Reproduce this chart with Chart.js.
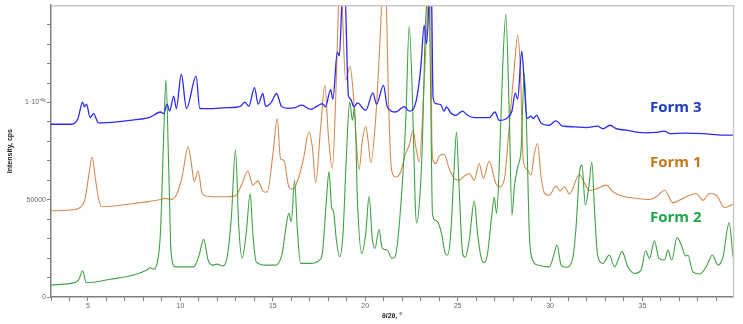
<!DOCTYPE html>
<html>
<head>
<meta charset="utf-8">
<script src="https://cdn.jsdelivr.net/npm/chart.js@4.4.0/dist/chart.umd.min.js"></script>
<style>
    html, body { margin: 0; padding: 0; background: #fff; }
    #wrap { width: 743px; height: 324px; }
</style>
</head>
<body>
<div id="wrap"><canvas id="xrd-chart" width="743" height="324"></canvas></div>
<script>
// [2theta, counts]
var form3Pattern = [
    [3.0, 88800], [4.04, 88800], [4.45, 91500], [4.71, 100200], [4.81, 97700], [4.92, 99100],
    [5.12, 92200], [5.3, 94300], [5.57, 89500], [6.57, 90000], [7.5, 91000], [8.37, 92500],
    [8.92, 95100], [9.1, 94300], [9.28, 99100], [9.42, 95600], [9.64, 103300], [9.78, 96900],
    [10.05, 114500], [10.33, 96900], [10.85, 113400], [11.05, 96900], [11.5, 96800], [12.5, 97300],
    [13.25, 98000], [13.49, 100200], [13.7, 98000], [14.01, 107600], [14.21, 99100], [14.46, 104600],
    [14.61, 98000], [14.93, 100200], [15.2, 104600], [15.47, 98000], [15.8, 97000], [16.2, 97300],
    [16.56, 98600], [17.05, 96400], [17.32, 97700], [17.59, 99100], [17.68, 99400], [17.85, 97800],
    [18.13, 106600], [18.25, 101600], [18.49, 125900], [18.6, 124000], [18.73, 150000], [18.83, 175000],
    [18.94, 150000], [19.09, 103700], [19.21, 101700], [19.39, 97700], [19.58, 99800], [20.03, 96000],
    [20.42, 104900], [20.61, 99100], [20.99, 108800], [21.2, 97700], [21.65, 95100], [22.1, 97900],
    [22.38, 95600], [22.74, 100200], [23.01, 118200], [23.19, 139600], [23.32, 130200], [23.44, 150000],
    [23.52, 175000], [23.6, 150000], [23.67, 102800], [23.82, 99400], [24.09, 98800], [24.27, 95600],
    [24.4, 97700], [24.63, 94600], [24.9, 93400], [25.27, 95600], [25.54, 93400], [25.9, 92200],
    [26.71, 92200], [27.02, 95100], [27.25, 90800], [27.71, 92200], [27.94, 95600], [28.12, 104900],
    [28.25, 101700], [28.47, 126400], [28.61, 109700], [28.75, 91700], [28.97, 93000], [29.09, 91700],
    [29.28, 93400], [29.51, 89500], [29.96, 88300], [30.32, 90500], [30.69, 87800], [31.3, 87500],
    [31.95, 87100], [32.58, 87800], [32.86, 86500], [33.25, 88300], [33.58, 86500], [34.1, 85800],
    [34.66, 84800], [35.2, 84400], [35.7, 84600], [36.19, 85300], [36.47, 84000], [37.3, 84200],
    [38.28, 84000], [39.36, 83200], [39.9, 83200]
];

var form1Pattern = [
    [3.0, 44300], [4.04, 44700], [4.58, 46000], [4.85, 50700], [5.03, 61700], [5.23, 72000],
    [5.39, 61700], [5.57, 50700], [5.76, 46400], [7.47, 48100], [8.92, 50100], [9.1, 50700],
    [9.55, 50200], [9.82, 53200], [10.09, 61700], [10.42, 77200], [10.58, 69500], [10.76, 59200],
    [10.96, 64800], [11.18, 53200], [11.45, 51800], [12.26, 51500], [12.98, 52000], [13.34, 58400],
    [13.65, 64800], [13.92, 57500], [14.19, 59700], [14.52, 54000], [14.7, 54000], [15.0, 72900],
    [15.24, 91700], [15.42, 71000], [15.6, 70300], [15.87, 56600], [16.09, 55300], [16.41, 61700],
    [16.68, 72000], [16.95, 84800], [17.14, 77200], [17.32, 58700], [17.59, 87400], [17.82, 108800],
    [18.0, 84000], [18.22, 66000], [18.4, 101100], [18.55, 149000], [18.65, 175000], [18.76, 149000],
    [18.94, 111400], [19.18, 118600], [19.34, 106300], [19.49, 84000], [19.67, 65500], [19.85, 80600],
    [20.03, 87800], [20.17, 79300], [20.3, 69000], [20.57, 92000], [20.84, 140000], [21.0, 175000],
    [21.15, 150000], [21.26, 101100], [21.43, 65200], [21.65, 61700], [21.92, 64300], [22.16, 72900],
    [22.38, 78000], [22.59, 85700], [22.74, 77200], [22.92, 69400], [23.19, 110000], [23.37, 150000],
    [23.45, 180000], [23.55, 150000], [23.6, 84000], [23.67, 70300], [23.82, 68600], [24.0, 72400],
    [24.27, 73400], [24.54, 66100], [24.81, 60900], [25.08, 60100], [25.36, 62100], [25.63, 63500],
    [25.9, 60100], [26.17, 68600], [26.39, 61000], [26.71, 69800], [27.07, 58400], [27.25, 56600],
    [27.52, 60100], [27.79, 87400], [28.07, 118200], [28.25, 134500], [28.39, 118200], [28.55, 70300],
    [28.79, 65200], [28.97, 62600], [29.15, 73700], [29.33, 78900], [29.51, 62200], [29.69, 53500],
    [29.96, 52300], [30.32, 57000], [30.54, 54600], [30.78, 56700], [31.05, 53000], [31.59, 63100],
    [31.86, 58700], [32.13, 54800], [32.49, 55500], [33.04, 57500], [33.4, 54100], [33.94, 51800],
    [34.66, 50700], [35.38, 50100], [35.75, 51500], [36.2, 54900], [36.65, 48400], [37.19, 50700],
    [37.91, 53200], [38.28, 49700], [38.63, 53200], [39.0, 52300], [39.45, 46000], [39.9, 47700]
];

var form2Pattern = [
    [3.0, 6200], [4.04, 7000], [4.49, 8700], [4.71, 13500], [4.91, 7300], [6.21, 9100],
    [7.47, 11300], [8.19, 13900], [8.37, 15000], [8.55, 14300], [8.74, 17300], [8.92, 32700],
    [9.1, 84000], [9.22, 111700], [9.37, 66000], [9.5, 22400], [9.73, 15500], [10.72, 15500],
    [10.81, 16400], [11.0, 21000], [11.26, 29600], [11.5, 19000], [11.72, 16400], [11.99, 16900],
    [12.26, 15900], [12.53, 20700], [12.76, 41200], [12.98, 75500], [13.16, 36100], [13.34, 19900],
    [13.56, 32700], [13.78, 53200], [13.92, 32700], [14.1, 18100], [14.61, 16400], [15.15, 16400],
    [15.51, 22400], [15.69, 34400], [15.87, 43000], [16.0, 38700], [16.18, 60000], [16.32, 36100],
    [16.5, 17300], [17.05, 17300], [17.53, 19000], [17.68, 22400], [17.9, 49800], [18.04, 64300],
    [18.18, 46300], [18.29, 43800], [18.44, 29300], [18.62, 20700], [18.8, 32700], [18.98, 72000],
    [19.16, 100200], [19.31, 90900], [19.43, 97700], [19.58, 49800], [19.81, 22400], [20.03, 32700],
    [20.21, 51800], [20.39, 29300], [20.53, 25000], [20.75, 34700], [20.89, 26200], [21.02, 24500],
    [21.2, 24100], [21.44, 19900], [21.62, 20700], [21.92, 46300], [22.2, 92000], [22.38, 139100],
    [22.56, 101100], [22.7, 49800], [22.78, 38100], [22.95, 50600], [23.1, 80600], [23.24, 135400],
    [23.32, 150000], [23.42, 165000], [23.52, 120000], [23.64, 43000], [23.78, 39500], [23.97, 37800],
    [24.15, 31800], [24.33, 22400], [24.46, 21600], [24.63, 32700], [24.81, 66000], [24.94, 84800],
    [25.08, 56600], [25.27, 22400], [25.41, 20400], [25.63, 29300], [25.9, 49300], [26.08, 32700],
    [26.26, 20700], [26.44, 17600], [26.62, 22400], [26.86, 43000], [26.98, 51200], [27.11, 43000],
    [27.25, 66900], [27.44, 118200], [27.61, 145300], [27.79, 95900], [27.94, 42100], [28.07, 56600],
    [28.25, 66900], [28.43, 75500], [28.61, 114800], [28.75, 80600], [28.88, 32700], [29.06, 19000],
    [29.33, 16400], [29.96, 15500], [30.18, 20700], [30.38, 26700], [30.6, 16400], [30.87, 15300],
    [31.23, 19900], [31.41, 36100], [31.59, 63500], [31.73, 67800], [31.91, 47200], [32.1, 56600],
    [32.26, 69500], [32.4, 46300], [32.58, 21100], [32.86, 17300], [33.21, 21600], [33.49, 15500],
    [33.9, 23300], [34.21, 15500], [34.57, 12100], [34.93, 13800], [35.17, 23800], [35.38, 19900],
    [35.65, 28900], [35.89, 19900], [36.2, 19000], [36.38, 24100], [36.59, 19000], [36.87, 30600],
    [37.1, 26700], [37.34, 21100], [37.46, 21600], [37.73, 12900], [38.09, 11800], [38.45, 15500],
    [38.78, 21600], [39.09, 16400], [39.36, 20700], [39.69, 38100], [39.9, 20700]
];

var xTickLabels = [5, 10, 15, 20, 25, 30, 35];
var yTickLabels = { 0: '0', 50000: '50000', 100000: '1·10⁺⁰⁵' };

var seriesNames = ['Form 3', 'Form 2', 'Form 1'];
var lineColors = ['#2a2af2', '#3fa243', '#d58a52'];
var lineWidths = [1.3, 1.1, 1.1];
var labelColors = ['#1d3cbf', '#1fa64b', '#c27a18'];

var AXIS_GREY = '#7f7f7f';

// light frame along top and right of the plot
var frameLines = {
    id: 'frameLines',
    afterDraw: function(chart) {
        var a = chart.chartArea;
        var ctx = chart.ctx;
        ctx.save();
        ctx.strokeStyle = '#c9c9c9';
        ctx.lineWidth = 1.5;
        ctx.beginPath();
        ctx.moveTo(a.left, a.top + 0.5);
        ctx.lineTo(a.right + 0.5, a.top + 0.5);
        ctx.lineTo(a.right + 0.5, a.bottom);
        ctx.stroke();
        ctx.restore();
    }
};

// the Form n captions on the right
var formCaptions = {
    id: 'formCaptions',
    afterDatasetsDraw: function(chart) {
        var ctx = chart.ctx;
        var rows = [[0, 108], [2, 163], [1, 218]];
        ctx.save();
        ctx.font = 'bold 15px "Open Sans", sans-serif';
        ctx.textBaseline = 'middle';
        rows.forEach(function(r) {
            ctx.fillStyle = labelColors[r[0]];
            ctx.fillText(seriesNames[r[0]], 650, r[1]);
        });
        ctx.restore();
    }
};

function toPoints(pattern) {
    return pattern.map(function(p) { return { x: p[0], y: p[1] }; });
}

document.addEventListener('DOMContentLoaded', function() {
    var patterns = [form3Pattern, form2Pattern, form1Pattern];
    var ctx = document.getElementById('xrd-chart').getContext('2d');

    new Chart(ctx, {
        type: 'line',
        data: {
            datasets: patterns.map(function(p, i) {
                return {
                    label: seriesNames[i],
                    data: toPoints(p),
                    borderColor: lineColors[i],
                    borderWidth: lineWidths[i],
                    pointRadius: 0,
                    fill: false,
                    cubicInterpolationMode: 'monotone'
                };
            })
        },
        options: {
            responsive: false,
            animation: false,
            layout: { padding: { top: 5, right: 10, bottom: 4, left: 0 } },
            plugins: {
                legend: { display: false },
                tooltip: { enabled: false }
            },
            scales: {
                x: {
                    type: 'linear',
                    min: 3,
                    max: 39.9,
                    afterBuildTicks: function(scale) {
                        var ticks = [];
                        for (var v = 3; v <= 39; v++) ticks.push({ value: v });
                        scale.ticks = ticks;
                    },
                    afterFit: function(scale) { scale.height = 23; },
                    ticks: {
                        autoSkip: false,
                        maxRotation: 0,
                        padding: 1,
                        color: '#666',
                        font: { family: 'Arial, "Liberation Sans", sans-serif', size: 7 },
                        callback: function(v) {
                            return xTickLabels.indexOf(v) >= 0 ? String(v) : '';
                        }
                    },
                    grid: { drawOnChartArea: false, drawTicks: true, tickLength: 4, color: AXIS_GREY },
                    border: { color: AXIS_GREY, width: 1.5 },
                    title: {
                        display: true,
                        text: 'θ/2θ, °',
                        color: '#222',
                        padding: 0,
                        font: { family: 'Arial, "Liberation Sans", sans-serif', size: 7, weight: 'bold' }
                    }
                },
                y: {
                    min: 0,
                    max: 150000,
                    afterBuildTicks: function(scale) {
                        var ticks = [];
                        for (var v = 0; v <= 140000; v += 10000) ticks.push({ value: v });
                        scale.ticks = ticks;
                    },
                    afterFit: function(scale) { scale.width = 51; },
                    ticks: {
                        autoSkip: false,
                        padding: 1,
                        color: '#666',
                        font: { family: 'Arial, "Liberation Sans", sans-serif', size: 7 },
                        callback: function(v) {
                            return yTickLabels.hasOwnProperty(v) ? yTickLabels[v] : '';
                        }
                    },
                    grid: { drawOnChartArea: false, drawTicks: true, tickLength: 4, color: AXIS_GREY },
                    border: { color: AXIS_GREY, width: 1.5 },
                    title: {
                        display: true,
                        text: 'Intensity, cps',
                        color: '#222',
                        padding: { top: 6, bottom: 0 },
                        font: { family: 'Arial, "Liberation Sans", sans-serif', size: 7, weight: 'bold' }
                    }
                }
            }
        },
        plugins: [frameLines, formCaptions]
    });
});
</script>
</body>
</html>
